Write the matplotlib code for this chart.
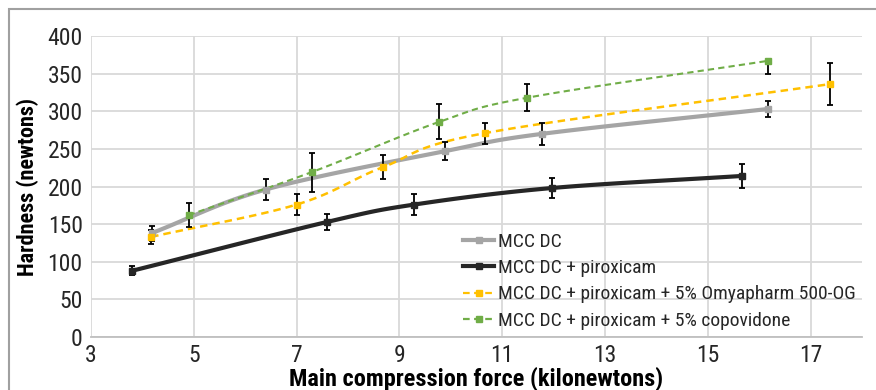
import numpy as np
import matplotlib
matplotlib.use("Agg")
import matplotlib.pyplot as plt
from matplotlib.patches import Rectangle
from matplotlib.lines import Line2D

plt.rcParams['font.family'] = ['Liberation Sans Narrow', 'Roboto Condensed', 'DejaVu Sans']

# ---- data ----
mcc_x = [4.18, 6.40, 9.89, 11.78, 16.17]
mcc_y = [138, 196, 247, 270, 303]
mcc_err = [10, 14, 12, 15, 11]

pir_x = [3.80, 7.60, 9.29, 11.97, 15.66]
pir_y = [88, 153, 176, 198, 214]
pir_err = [6, 11, 14, 13, 16]

omy_x = [4.17, 7.00, 8.69, 10.67, 17.37]
omy_y = [133, 176, 226, 271, 336]
omy_err = [9, 14, 16, 14, 28]

cop_x = [4.90, 7.29, 9.78, 11.49, 16.17]
cop_y = [162, 219, 286, 318, 367]
cop_err_low = [16, 26, 23, 18, 17]
cop_err_high = [16, 26, 23, 18, 0]

labels = ["MCC DC", "MCC DC + piroxicam",
          "MCC DC + piroxicam + 5% Omyapharm 500-OG",
          "MCC DC + piroxicam + 5% copovidone"]
xticks = [3, 5, 7, 9, 11, 13, 15, 17]
yticks = [0, 50, 100, 150, 200, 250, 300, 350, 400]


def smooth(x, y, n=30):
    """Catmull-Rom style smoothing through points (like Excel smoothed lines)."""
    x = np.asarray(x, float); y = np.asarray(y, float)
    P = np.column_stack([x, y])
    P = np.vstack([P[0] - (P[1] - P[0]), P, P[-1] + (P[-1] - P[-2])])
    out = []
    for i in range(1, len(P) - 2):
        p0, p1, p2, p3 = P[i - 1], P[i], P[i + 1], P[i + 2]
        c1 = p1 + (p2 - p0) / 6.0
        c2 = p2 - (p3 - p1) / 6.0
        t = np.linspace(0, 1, n)[:, None]
        seg = (1 - t) ** 3 * p1 + 3 * (1 - t) ** 2 * t * c1 + 3 * (1 - t) * t ** 2 * c2 + t ** 3 * p2
        out.append(seg if i == 1 else seg[1:])
    s = np.vstack(out)
    return s[:, 0], s[:, 1]


fig = plt.figure(figsize=(8.76, 3.9), dpi=100)
ax = fig.add_axes([91 / 876, 1 - 337 / 390, (862 - 91) / 876, (337 - 36) / 390])

series = [
    (mcc_x, mcc_y, (mcc_err, mcc_err), '#a5a5a5', '-', 3.0),
    (pir_x, pir_y, (pir_err, pir_err), '#262626', '-', 3.0),
    (omy_x, omy_y, (omy_err, omy_err), '#ffc000', '--', 1.8),
    (cop_x, cop_y, (cop_err_low, cop_err_high), '#70ad47', '--', 1.5),
]

handles = []
for (xs, ys, err, col, ls, lw), lab in zip(series, labels):
    sx, sy = smooth(xs, ys)
    ax.plot(sx, sy, color=col, ls=ls, lw=lw, zorder=3,
            dashes=(3, 2) if ls == '--' else (None, None))
    ax.errorbar(xs, ys, yerr=[err[0], err[1]], fmt='none', ecolor='black',
                elinewidth=1.3, capsize=2.5, capthick=1.3, zorder=4)
    ax.plot(xs, ys, ls='none', marker='s', ms=5, color=col, zorder=5)
    h = Line2D([0], [0], color=col, lw=lw if ls == '-' else 1.6,
               ls=ls, marker='s', ms=4)
    if ls == '--':
        h.set_dashes((3, 2))
    handles.append(h)

ax.set_xlim(3, 18)
ax.set_ylim(0, 400)
ax.set_xticks(xticks)
ax.set_yticks(yticks)
ax.tick_params(axis='both', length=0, labelsize=17, colors='#262626')
ax.tick_params(axis='x', pad=5)
ax.tick_params(axis='y', pad=6)
ax.grid(True, color='#d9d9d9', lw=1.3)
ax.set_axisbelow(True)
for s in ['top', 'right', 'left']:
    ax.spines[s].set_visible(False)
ax.spines['bottom'].set_color('#bfbfbf')
ax.spines['bottom'].set_linewidth(1.3)

ax.set_xlabel("Main compression force (kilonewtons)", fontsize=17.5, fontweight='bold',
              color='black', labelpad=0)
ax.set_ylabel("Hardness (newtons)", fontsize=16, fontweight='bold', color='black', labelpad=6)

leg = ax.legend(handles, labels, loc='upper left',
                bbox_to_anchor=(463 / 876, 1 - 233 / 390), bbox_transform=fig.transFigure,
                frameon=False, fontsize=14, handlelength=1.6, handletextpad=0.2,
                labelspacing=0.42, borderaxespad=0, borderpad=0)
for t in leg.get_texts():
    t.set_color('#262626')

fig.patches.append(Rectangle((9 / 876, -0.2), 1.2, (390 - 9) / 390 + 0.2,
                             transform=fig.transFigure, fill=False,
                             edgecolor='#a0a0a0', lw=1.5, clip_on=False))

fig.savefig("out.png", dpi=100)
